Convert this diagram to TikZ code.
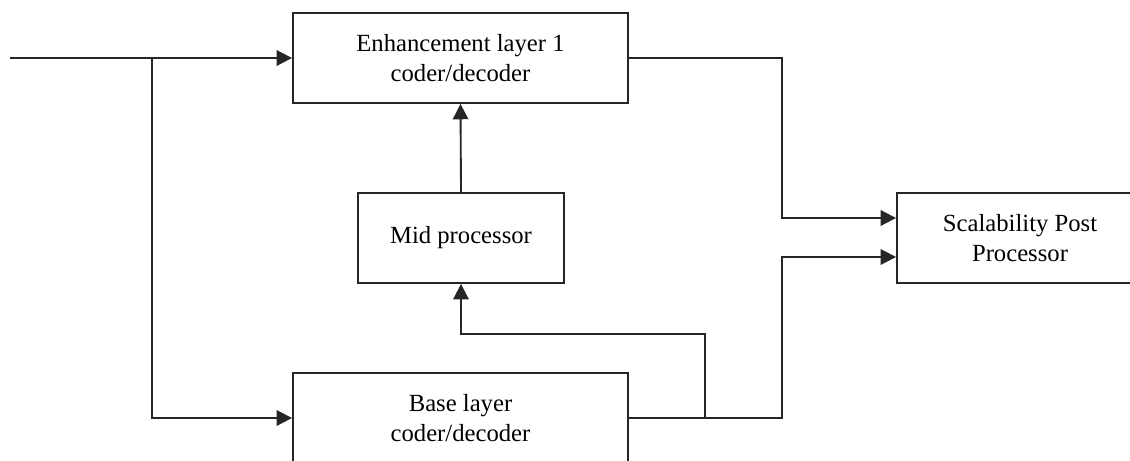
\documentclass[tikz,border=0pt]{standalone}
\usepackage{fontspec}
\setmainfont{Liberation Serif}
\usetikzlibrary{arrows.meta}
\begin{document}
\begin{tikzpicture}[x=0.75pt,y=-0.75pt,
  txt/.style={align=center, font=\fontsize{18.5}{23}\selectfont},
  blk/.style={txt, draw=black!85, line width=1.4pt, rectangle, inner sep=0pt},
  conn/.style={draw=black!85, line width=1.4pt},
  arr/.style={conn, -{Triangle[length=11.5pt,width=11.5pt]}}]
\useasboundingbox (0,0) rectangle (1130,460);
\clip (0,0) rectangle (1130,460);
\fill[white] (0,0) rectangle (1130,460);
\node[blk, minimum width=335*0.75pt, minimum height=90*0.75pt] (enh) at (460.5,58) {Enhancement layer 1\\coder/decoder};
\node[blk, minimum width=206*0.75pt, minimum height=90*0.75pt] (mid) at (461,238) {Mid processor};
\node[blk, minimum width=335*0.75pt, minimum height=90*0.75pt] (base) at (460.5,418) {Base layer\\coder/decoder};
\node[blk, minimum width=300*0.75pt, minimum height=90*0.75pt] (scal) at (1047,238) {};
\node[txt] (scaltxt) at (1020,238) {Scalability Post\\Processor};
\coordinate (in) at (10,58);
\coordinate (br1) at (152,58);
\coordinate (br2) at (705,418);
\draw[arr] (in) -- (enh.west);
\draw[arr] (br1) |- (base.west);
\draw[arr] (mid.north) -- (enh.south);
\draw[arr] (enh.east) -- (782,58) |- ([yshift=15pt]scal.west);
\draw[arr] (base.east) -- (782,418) |- ([yshift=-14.25pt]scal.west);
\draw[arr] (br2) |- (461,334) -- (mid.south);
\end{tikzpicture}
\end{document}
